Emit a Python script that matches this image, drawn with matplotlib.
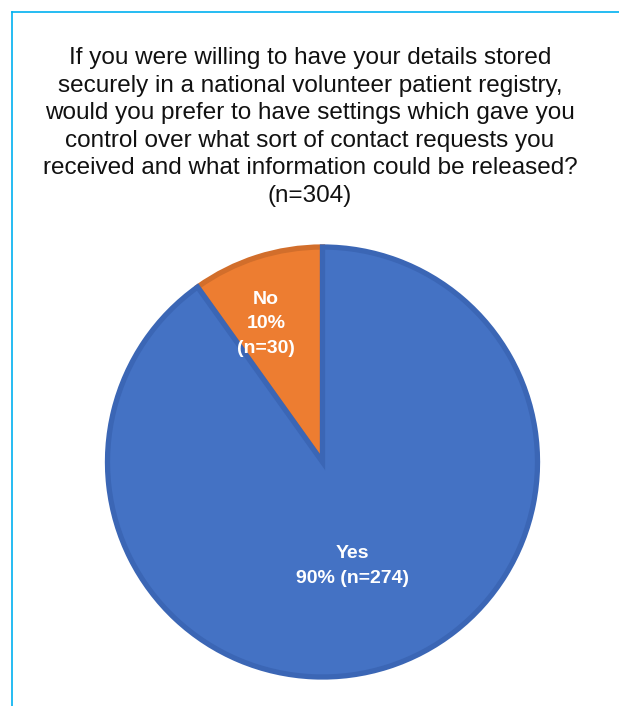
import matplotlib
matplotlib.use("Agg")
import matplotlib.pyplot as plt
from matplotlib.lines import Line2D

# Dados do gráfico
rotulos = ["No", "Yes"]
contagens = [30, 274]
percentuais = [10, 90]
cores = ["#ED7D31", "#4472C4"]
cores_borda = ["#D26E2B", "#3B66B5"]

titulo = ("If you were willing to have your details stored\n"
          "securely in a national volunteer patient registry,\n"
          "would you prefer to have settings which gave you\n"
          "control over what sort of contact requests you\n"
          "received and what information could be released?\n"
          "(n=304)")

LARGURA, ALTURA = 619, 706

plt.rcParams['font.family'] = ['Liberation Sans', 'DejaVu Sans']

fig = plt.figure(figsize=(LARGURA / 100, ALTURA / 100), dpi=100)
ax = fig.add_axes([0, 0, 1, 1])

# Pizza: começa no topo, "No" vai no sentido anti-horário
centro = (322.5, ALTURA - 462)
fatias, _ = ax.pie(contagens, colors=cores, startangle=90, counterclock=True,
                   center=centro, radius=215, frame=True,
                   wedgeprops=dict(linewidth=3.8))
for fatia, cb in zip(fatias, cores_borda):
    fatia.set_edgecolor(cb)
ax.set_xlim(0, LARGURA)
ax.set_ylim(0, ALTURA)
ax.set_aspect('equal')
ax.axis('off')

ax.text(266, ALTURA - 324,
        f"{rotulos[0]}\n{percentuais[0]}%\n(n={contagens[0]})",
        ha='center', va='center', color='white', fontsize=14,
        fontweight='bold', linespacing=1.6)
ax.text(352, ALTURA - 566,
        f"{rotulos[1]}\n{percentuais[1]}% (n={contagens[1]})",
        ha='center', va='center', color='white', fontsize=14,
        fontweight='bold', linespacing=1.6)

fig.text(310 / LARGURA, 1 - 127 / ALTURA, titulo, ha='center', va='center',
         fontsize=17.5, color='#111111', linespacing=1.33)

# Moldura ciano (topo e esquerda)
y_borda = 1 - 12 / ALTURA
x_borda = 12 / LARGURA
fig.add_artist(Line2D([x_borda, 1], [y_borda, y_borda], color='#00B0F0',
                      linewidth=1.2, transform=fig.transFigure))
fig.add_artist(Line2D([x_borda, x_borda], [0, y_borda], color='#00B0F0',
                      linewidth=1.2, transform=fig.transFigure))

fig.savefig("out.png", dpi=100, facecolor='white')
